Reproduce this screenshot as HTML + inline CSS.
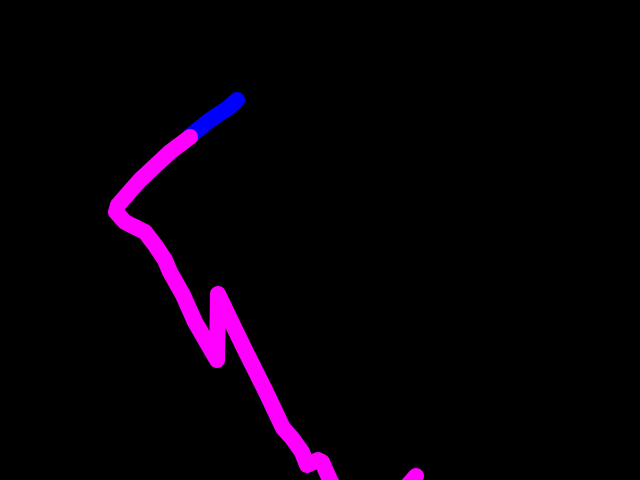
<!DOCTYPE html>
<html><head><meta charset="utf-8"><style>html,body{margin:0;padding:0;background:#000;width:640px;height:480px;overflow:hidden}</style></head>
<body>
<svg id="chart" width="640" height="480" viewBox="0 0 640 480" style="display:block;background:#000"></svg>
<script>
const blueX=[237,228,210,190];
const blueY=[100,108,120,136];
const magX=[190,170,140,118,116,125,145,155,165,170,183,195,217,218,228,245,265,283,292,302,307,318,322,330,338,400,408,416];
const magY=[137,152,180,205,212,222,232,245,260,272,295,322,360,294,315,350,390,428,438,452,465,460,462,480,495,495,485,476];
const sx=v=>v*(640/640), sy=v=>v*(480/480);
const svg=document.getElementById('chart');
function line(xs,ys,color,name){
  const p=document.createElementNS('http://www.w3.org/2000/svg','polyline');
  p.setAttribute('points',xs.map((x,i)=>sx(x)+','+sy(ys[i])).join(' '));
  p.setAttribute('fill','none');p.setAttribute('stroke',color);p.setAttribute('stroke-width','16');
  p.setAttribute('stroke-linecap','round');p.setAttribute('stroke-linejoin','round');
  
  
  svg.appendChild(p);
}
line(blueX,blueY,'#0000ff','blue-series-line');
line(magX,magY,'#ff00ff','magenta-series-line');
</script>
</body></html>
